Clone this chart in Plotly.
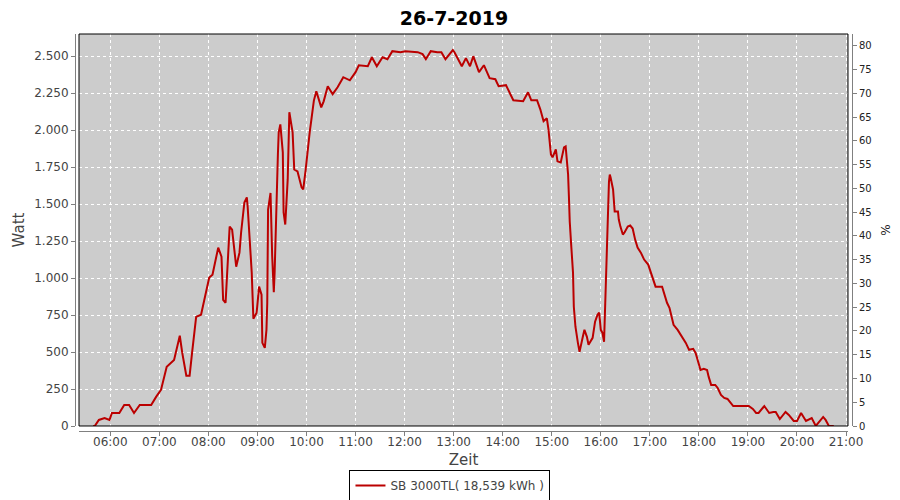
import plotly.graph_objects as go

DAY = "2019-07-26"
title_text = "26-7-2019"
series_name = "SB 3000TL( 18,539 kWh )"

times = [
    "05:39", "05:41", "05:46", "05:53", "05:59", "06:02", "06:11", "06:17", "06:23", "06:29",
    "06:36", "06:50", "06:56", "07:02", "07:09", "07:15", "07:18", "07:25", "07:28", "07:33",
    "07:37", "07:40", "07:45", "07:51", "07:58", "08:01", "08:05", "08:12", "08:16", "08:18",
    "08:21", "08:23", "08:26", "08:29", "08:31", "08:34", "08:38", "08:40", "08:44", "08:47",
    "08:48", "08:53", "08:55", "08:59", "09:02", "09:05", "09:06", "09:09", "09:11", "09:12",
    "09:13", "09:16", "09:18", "09:20", "09:21", "09:23", "09:25", "09:26", "09:28", "09:31",
    "09:32", "09:34", "09:37", "09:39", "09:43", "09:45", "09:49", "09:54", "09:56", "09:59",
    "10:01", "10:04", "10:06", "10:09", "10:12", "10:15", "10:18", "10:21", "10:26", "10:32",
    "10:38", "10:45", "10:53", "11:00", "11:04", "11:15", "11:20", "11:26", "11:33", "11:39",
    "11:45", "11:55", "12:01", "12:16", "12:22", "12:26", "12:32", "12:40", "12:45", "12:50",
    "12:59", "13:01", "13:05", "13:10", "13:15", "13:20", "13:24", "13:31", "13:37", "13:42",
    "13:44", "13:51", "13:55", "14:04", "14:13", "14:25", "14:31", "14:35", "14:42", "14:46",
    "14:50", "14:54", "14:56", "14:59", "15:01", "15:05", "15:07", "15:11", "15:15", "15:17",
    "15:20", "15:21", "15:22", "15:24", "15:26", "15:27", "15:29", "15:32", "15:34", "15:38",
    "15:40", "15:43", "15:45", "15:50", "15:53", "15:56", "15:58", "16:00", "16:02", "16:04",
    "16:05", "16:06", "16:07", "16:09", "16:10", "16:11", "16:12", "16:15", "16:16", "16:17",
    "16:21", "16:22", "16:24", "16:27", "16:29", "16:33", "16:36", "16:39", "16:42", "16:45",
    "16:49", "16:53", "16:58", "17:00", "17:04", "17:07", "17:15", "17:17", "17:21", "17:24",
    "17:29", "17:34", "17:40", "17:44", "17:48", "17:53", "17:56", "17:59", "18:02", "18:06",
    "18:10", "18:12", "18:15", "18:20", "18:23", "18:27", "18:31", "18:35", "18:42", "19:01",
    "19:06", "19:10", "19:13", "19:20", "19:26", "19:31", "19:34", "19:39", "19:46", "19:50",
    "19:56", "20:00", "20:05", "20:11", "20:18", "20:23", "20:27", "20:32", "20:35", "20:39",
    "20:45",
]

watt = [
    0, 0, 41, 54, 41, 88, 88, 142, 142, 88,
    142, 142, 197, 244, 400, 427, 447, 610, 494, 340,
    340, 494, 738, 752, 942, 1003, 1023, 1206, 1145, 853,
    833, 1010, 1348, 1328, 1213, 1077, 1172, 1308, 1511, 1545,
    1484, 1037, 725, 766, 942, 888, 562, 528, 650, 833,
    1463, 1575, 1150, 905, 1037, 1552, 1836, 1985, 2039, 1850,
    1443, 1362, 1667, 2121, 1985, 1734, 1721, 1613, 1599, 1734,
    1857, 1990, 2073, 2200, 2263, 2209, 2154, 2195, 2297, 2243,
    2290, 2358, 2337, 2392, 2439, 2432, 2493, 2432, 2493, 2480,
    2534, 2527, 2534, 2527, 2514, 2480, 2534, 2527, 2527, 2480,
    2541, 2527, 2480, 2432, 2487, 2432, 2500, 2392, 2439, 2378,
    2351, 2344, 2297, 2304, 2202, 2195, 2256, 2202, 2202, 2141,
    2060, 2080, 2005, 1836, 1816, 1870, 1789, 1782, 1884, 1890,
    1700, 1552, 1382, 1206, 1037, 806, 671, 562, 501, 603,
    650, 603, 549, 596, 705, 752, 766, 650, 630, 569,
    738, 921, 1125, 1531, 1653, 1700, 1680, 1599, 1484, 1450,
    1450, 1396, 1348, 1294, 1308, 1348, 1355, 1335, 1260, 1206,
    1172, 1125, 1091, 1057, 989, 942, 942, 901, 833, 799,
    684, 650, 596, 562, 515, 522, 494, 427, 379, 386,
    379, 332, 278, 278, 257, 210, 190, 183, 135, 135,
    115, 88, 88, 135, 88, 95, 95, 47, 95, 75,
    34, 34, 88, 34, 54, 0, 27, 61, 41, 0,
    0,
]

x_range = ["05:21:42", "21:02:24"]
watt_range = [0, 2650]
pct_range = [0, 82.5]

xs = [f"{DAY} {t}" for t in times]

FONT = "DejaVu Sans"
GRAY = "#808080"

fig = go.Figure()
fig.add_trace(go.Scatter(
    x=xs, y=watt, mode="lines", name=series_name,
    line=dict(color="#bb0000", width=2),
))
# invisible trace to activate the percentage axis
fig.add_trace(go.Scatter(
    x=[xs[0]], y=[0], yaxis="y2", mode="markers",
    marker=dict(opacity=0), showlegend=False, hoverinfo="skip",
))

# The page places the figure 8px from the top-left corner of the window,
# so the figure is 892x492 and fills the rest of the 900x500 window.
fig.update_layout(
    width=892, height=492,
    paper_bgcolor="white",
    plot_bgcolor="#cccccc",
    separators=",.",
    margin=dict(l=67, r=48, t=26, b=69, autoexpand=False),
    title=dict(text=title_text, x=0.5, xanchor="center", y=0.9919, yanchor="top",
               pad=dict(t=0, b=0),
               font=dict(family=FONT, size=19, color="black", weight="bold")),
    font=dict(family=FONT, size=12, color="#444444"),
    xaxis=dict(
        type="date",
        domain=[0.00515, 0.99485],
        anchor="free", position=0, automargin=False,
        range=[f"{DAY} {x_range[0]}", f"{DAY} {x_range[1]}"],
        tick0=f"{DAY} 06:00", dtick=3600000, tickformat="%H:%M",
        ticks="outside", ticklen=4, tickcolor=GRAY, ticklabelstandoff=-4,
        showline=True, linecolor=GRAY, linewidth=1,
        showgrid=True, gridcolor="white", griddash="dot", gridwidth=1,
        zeroline=False,
        tickfont=dict(size=12, color="#444444"),
        title=dict(text="Zeit", font=dict(size=15, color="#444444"), standoff=6),
    ),
    yaxis=dict(
        domain=[0.0126, 1],
        anchor="free", position=0, automargin=False,
        range=watt_range, dtick=250, tickformat=",d",
        ticks="outside", ticklen=4, tickcolor=GRAY,
        showline=True, linecolor=GRAY, linewidth=1,
        showgrid=True, gridcolor="white", griddash="dot", gridwidth=1,
        zeroline=False,
        tickfont=dict(size=12, color="#444444"),
        title=dict(text="Watt", font=dict(size=15, color="#444444"), standoff=4),
    ),
    yaxis2=dict(
        overlaying="y", side="right",
        anchor="free", position=1, automargin=False,
        range=pct_range, dtick=5,
        ticks="outside", ticklen=4, tickcolor=GRAY,
        showline=True, linecolor=GRAY, linewidth=1,
        showgrid=False, zeroline=False,
        tickfont=dict(size=10, color="#222222"),
        title=dict(text="%", font=dict(size=12, color="#222222"), standoff=10),
    ),
    showlegend=True,
    legend=dict(
        orientation="h", x=0.4826, xanchor="center", y=-0.098, yanchor="top",
        bordercolor="black", borderwidth=1, bgcolor="white",
        itemwidth=30,
        font=dict(size=12, color="#444444"),
    ),
    shapes=[dict(type="rect", xref="x domain", yref="y domain",
                 x0=0, x1=1, y0=0, y1=1, line=dict(color="black", width=1),
                 fillcolor="rgba(0,0,0,0)", layer="above")],
)

fig.write_html("out.html")
